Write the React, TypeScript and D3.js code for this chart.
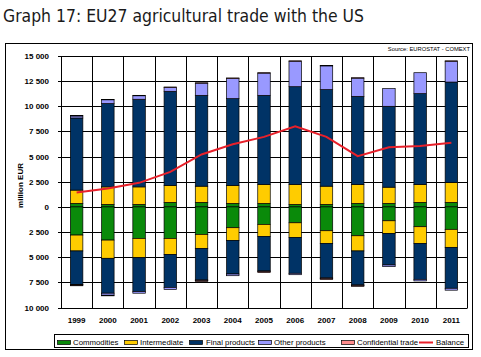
import React from "react";
import * as d3 from "d3";

const years = ["1999","2000","2001","2002","2003","2004","2005","2006","2007","2008","2009","2010","2011"];

// Exports (positive)
const commoditiesEx = [350,250,250,450,450,350,350,250,250,350,350,450,450];
const intermediateEx = [1320,1740,1740,1680,1610,1780,1880,1980,1810,1880,1610,1780,1980];
const finalEx = [7170,8280,8710,9360,9030,8630,8860,9720,9600,8760,8040,9030,9980];
const otherEx = [200,380,350,390,1210,2000,2210,2530,2360,1810,1760,2080,2070];
const confidentialEx = [40,40,40,40,40,60,40,40,40,40,0,0,40];

// Imports (shown below zero)
const commoditiesIm = [2800,3300,3130,3130,2730,2070,1740,1580,2370,2870,1380,1970,2230];
const intermediateIm = [1580,1810,1920,1590,1390,1260,1190,1450,1260,1510,1250,1660,1790];
const finalIm = [3320,3470,3370,3280,3140,3340,3440,3570,3430,3380,3140,3570,4070];
const otherIm = [60,200,160,200,60,170,60,140,60,60,170,160,190];
const confidentialIm = [80,60,0,0,100,0,100,0,100,80,0,0,0];

const balance = [1440,1840,2390,3480,5210,6230,6960,8020,6960,5040,5920,6050,6380];

const yTicks = [15000,12500,10000,7500,5000,2500,0,-2500,-5000,-7500,-10000];

const seriesNames = ["Commodities","Intermediate","Final products","Other products","Confidential trade"];
const colors = ["#0a8a0a","#ffcc00","#003366","#9999ff","#ff8c8c"];
const lineColor = "#e8202a";

const fmt = (v: number) => {
  const a = Math.abs(v);
  if (a < 1000) return String(a);
  const th = Math.floor(a / 1000);
  const rest = String(a % 1000).padStart(3, "0");
  return `${th} ${rest}`;
};

export default function App() {
  const W = 481, H = 357;
  const left = 61, right = 467, top = 56, bottom = 307.5;
  const x = d3.scaleBand<string>().domain(years).range([left, right]).paddingInner(0).paddingOuter(0);
  const y = d3.scaleLinear().domain([-10000, 15000]).range([bottom, top]);
  const bw = x.bandwidth() * 0.4;

  const exSeries = [commoditiesEx, intermediateEx, finalEx, otherEx, confidentialEx];
  const imSeries = [commoditiesIm, intermediateIm, finalIm, otherIm, confidentialIm];

  const rects: JSX.Element[] = [];
  years.forEach((yr, i) => {
    const cx = (x(yr) as number) + x.bandwidth() / 2;
    let acc = 0;
    exSeries.forEach((s, k) => {
      const v = s[i];
      if (v > 0) {
        rects.push(
          <rect key={`e${i}-${k}`} x={cx - bw / 2} y={y(acc + v)} width={bw} height={y(acc) - y(acc + v)}
            fill={colors[k]} stroke="#000" strokeWidth={0.7} />
        );
      }
      acc += v;
    });
    acc = 0;
    imSeries.forEach((s, k) => {
      const v = s[i];
      if (v > 0) {
        rects.push(
          <rect key={`i${i}-${k}`} x={cx - bw / 2} y={y(acc)} width={bw} height={y(acc - v) - y(acc)}
            fill={colors[k]} stroke="#000" strokeWidth={0.7} />
        );
      }
      acc -= v;
    });
  });

  const line = d3.line<number>()
    .x((_, i) => (x(years[i]) as number) + x.bandwidth() / 2)
    .y((d) => y(d));

  const font = "'Liberation Sans', Arial, sans-serif";

  const legendItems = [
    { label: seriesNames[0], color: colors[0], sx: 57, tx: 73 },
    { label: seriesNames[1], color: colors[1], sx: 124, tx: 140 },
    { label: seriesNames[2], color: colors[2], sx: 189, tx: 206 },
    { label: seriesNames[3], color: colors[3], sx: 258, tx: 274 },
    { label: seriesNames[4], color: colors[4], sx: 341, tx: 357 },
  ];

  return (
    <svg width={W} height={H} style={{ position: "absolute", left: 0, top: 0, background: "#fff" }}>
      <rect x={0} y={0} width={W} height={H} fill="#fff" />
      <text x={3} y={22} fontFamily="'DejaVu Sans Condensed', 'Liberation Sans Narrow', sans-serif"
        fontSize={18} fill="#1a1a1a" textLength={361} lengthAdjust="spacingAndGlyphs">
        Graph 17: EU27 agricultural trade with the US
      </text>
      <rect x={5.5} y={43.5} width={467} height={306} fill="none" stroke="#000" strokeWidth={1} />
      <text x={470} y={50.5} textAnchor="end" fontFamily={font} fontSize={5.8} fill="#000">
        Source: EUROSTAT - COMEXT
      </text>

      {/* horizontal gridlines */}
      {yTicks.map((t) => (
        <line key={`h${t}`} x1={left - 3} x2={right} y1={Math.round(y(t)) + 0.5} y2={Math.round(y(t)) + 0.5}
          stroke="#000" strokeWidth={1} />
      ))}
      {/* vertical gridlines */}
      {years.map((yr) => (
        <line key={`v${yr}`} x1={Math.round(x(yr) as number) + 0.5} x2={Math.round(x(yr) as number) + 0.5}
          y1={Math.round(y(15000)) + 0.5} y2={Math.round(y(-10000)) + 0.5} stroke="#000" strokeWidth={1} />
      ))}
      <line x1={right + 0.5} x2={right + 0.5} y1={Math.round(y(15000)) + 0.5} y2={Math.round(y(-10000)) + 0.5}
        stroke="#000" strokeWidth={1} />

      {rects}

      <path d={line(balance) || ""} fill="none" stroke={lineColor} strokeWidth={2} />

      {yTicks.map((t) => (
        <text key={`t${t}`} x={49} y={y(t) + 3} textAnchor="end" fontFamily={font} fontWeight="bold"
          fontSize={8} fill="#000">
          {fmt(t)}
        </text>
      ))}
      {years.map((yr) => (
        <text key={`xl${yr}`} x={(x(yr) as number) + x.bandwidth() / 2} y={323} textAnchor="middle"
          fontFamily={font} fontWeight="bold" fontSize={8} fill="#000">
          {yr}
        </text>
      ))}
      <text transform="translate(22.5,185.5) rotate(-90)" textAnchor="middle" fontFamily={font}
        fontWeight="bold" fontSize={8} fill="#000">
        million EUR
      </text>

      {/* legend */}
      <rect x={54.5} y={334.5} width={414} height={13} fill="#fff" stroke="#000" strokeWidth={1} />
      {legendItems.map((it) => (
        <g key={it.label}>
          <rect x={it.sx + 0.5} y={340.5} width={13} height={4} fill={it.color} stroke="#000" strokeWidth={0.7} />
          <text x={it.tx} y={345} fontFamily={font} fontSize={7.8} fill="#000">{it.label}</text>
        </g>
      ))}
      <line x1={419} x2={433} y1={342.5} y2={342.5} stroke={lineColor} strokeWidth={2} />
      <text x={436} y={345} fontFamily={font} fontSize={7.8} fill="#000">Balance</text>
    </svg>
  );
}
